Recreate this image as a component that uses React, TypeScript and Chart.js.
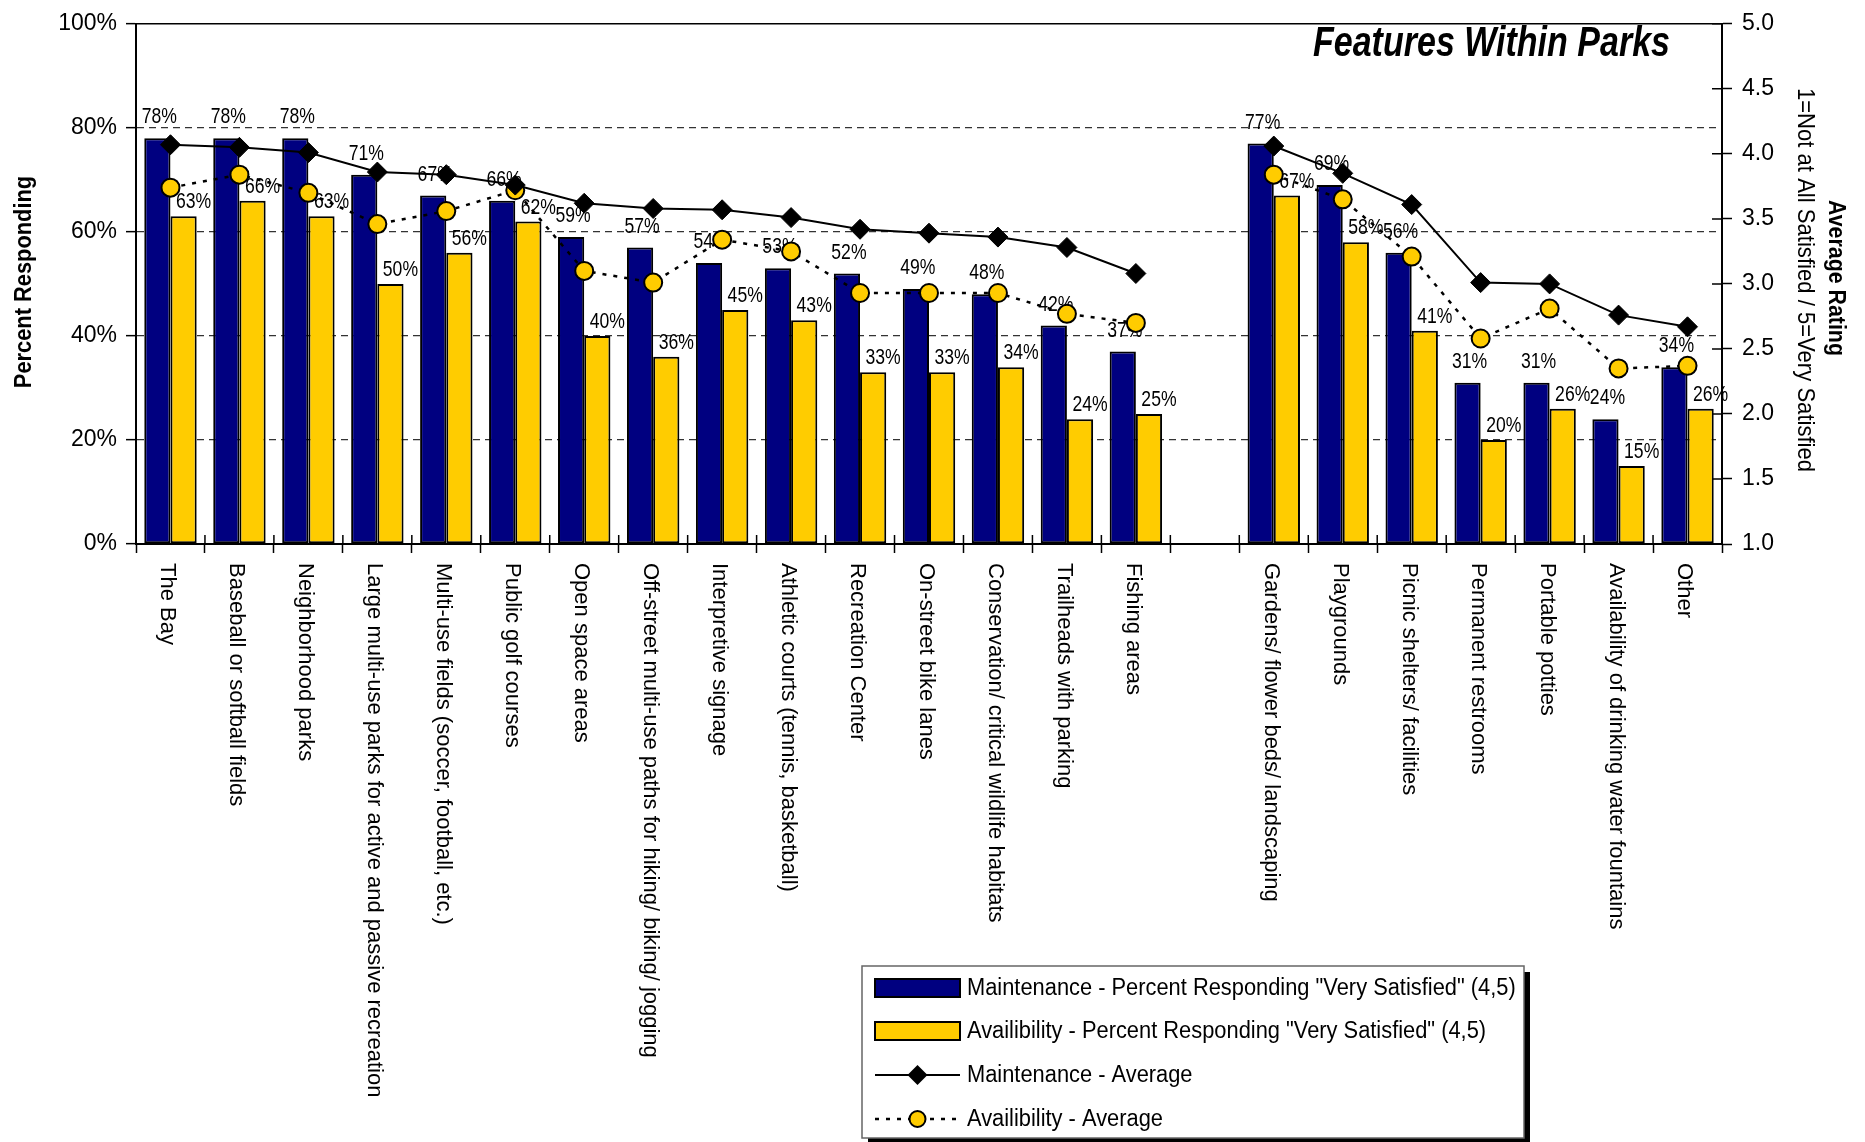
import React, { useEffect, useRef } from "react";
import { Chart, registerables } from "chart.js";

Chart.register(...registerables);

// ---------- data ----------
const categories = [
  "The Bay",
  "Baseball or softball fields",
  "Neighborhood parks",
  "Large multi-use parks for active and passive recreation",
  "Multi-use fields (soccer, football, etc.)",
  "Public golf courses",
  "Open space areas",
  "Off-street multi-use paths for hiking/ biking/ jogging",
  "Interpretive signage",
  "Athletic courts (tennis, basketball)",
  "Recreation Center",
  "On-street bike lanes",
  "Conservation/ critical wildlife habitats",
  "Trailheads with parking",
  "Fishing areas",
  "",
  "Gardens/ flower beds/ landscaping",
  "Playgrounds",
  "Picnic shelters/ facilities",
  "Permanent restrooms",
  "Portable potties",
  "Availability of drinking water fountains",
  "Other",
];

const maintenancePct = [78, 78, 78, 71, 67, 66, 59, 57, 54, 53, 52, 49, 48, 42, 37, null, 77, 69, 56, 31, 31, 24, 34];
const availabilityPct = [63, 66, 63, 50, 56, 62, 40, 36, 45, 43, 33, 33, 34, 24, 25, null, 67, 58, 41, 20, 26, 15, 26];
const maintenanceAvg = [4.07, 4.05, 4.01, 3.86, 3.84, 3.76, 3.62, 3.58, 3.57, 3.51, 3.42, 3.39, 3.36, 3.28, 3.08, null, 4.06, 3.85, 3.61, 3.01, 3.0, 2.76, 2.67];
const availabilityAvg = [3.74, 3.84, 3.7, 3.46, 3.56, 3.72, 3.1, 3.01, 3.34, 3.25, 2.93, 2.93, 2.93, 2.77, 2.7, null, 3.84, 3.65, 3.21, 2.58, 2.81, 2.35, 2.37];

const percentTicks = [0, 20, 40, 60, 80, 100];
const ratingTicks = [1.0, 1.5, 2.0, 2.5, 3.0, 3.5, 4.0, 4.5, 5.0];

const seriesNames = [
  'Maintenance - Percent Responding "Very Satisfied" (4,5)',
  'Availibility - Percent Responding "Very Satisfied" (4,5)',
  "Maintenance - Average",
  "Availibility - Average",
];
const chartTitle = "Features Within Parks";
const leftAxisTitle = "Percent Responding";
const rightAxisTitle = ["Average Rating", "1=Not at All Satisfied / 5=Very Satisfied"];

// ---------- styles / layout ----------
const NAVY = "#000080";
const GOLD = "#FFCC00";
const SANS = "'Liberation Sans', Arial, Helvetica, sans-serif";
const W = 1865;
const H = 1142;
const AREA = { left: 136, right: 1722, top: 18, bottom: 544 };

function condensedText(ctx: any, text: string, x: number, y: number, sx: number, rot = 0) {
  ctx.save();
  ctx.translate(x, y);
  if (rot) ctx.rotate(rot);
  ctx.scale(sx, 1);
  ctx.fillText(text, 0, 0);
  ctx.restore();
}

const decorPlugin = {
  id: "decor",
  afterDatasetDraw(chart: any, args: any) {
    if (args.index !== 0) return;
    const ctx = chart.ctx;
    ctx.save();
    ctx.font = `22px ${SANS}`;
    ctx.fillStyle = "#000";
    ctx.textAlign = "center";
    ctx.textBaseline = "middle";
    [0, 1].forEach((di) => {
      const meta = chart.getDatasetMeta(di);
      const values = chart.data.datasets[di].data;
      meta.data.forEach((bar: any, i: number) => {
        const v = values[i];
        if (v == null) return;
        const dx = di === 0 ? 2 : 10;
        const dy = di === 0 ? 21 : 14;
        condensedText(ctx, `${v}%`, bar.x + dx, bar.y - dy, 0.8);
      });
    });
    ctx.restore();
  },
  afterDraw(chart: any) {
    const { ctx, chartArea, scales } = chart;
    ctx.save();
    ctx.setLineDash([]);
    // top frame
    ctx.strokeStyle = "#000";
    ctx.lineWidth = 1.5;
    ctx.beginPath();
    ctx.moveTo(chartArea.left, chartArea.top);
    ctx.lineTo(chartArea.right, chartArea.top);
    ctx.stroke();

    // inner halves of the crossing tick marks (x axis and right axis)
    const xs = scales.x;
    const slot = xs.getPixelForValue(1) - xs.getPixelForValue(0);
    ctx.lineWidth = 1.5;
    ctx.beginPath();
    for (let i = 0; i <= categories.length; i++) {
      const bx = xs.getPixelForValue(0) - slot / 2 + i * slot;
      ctx.moveTo(bx, chartArea.bottom);
      ctx.lineTo(bx, chartArea.bottom - 9);
    }
    scales.y2.ticks.forEach((t: any) => {
      const py = scales.y2.getPixelForValue(t.value);
      ctx.moveTo(chartArea.right, py);
      ctx.lineTo(chartArea.right - 10, py);
    });
    ctx.stroke();

    // category labels (rotated clockwise)
    ctx.fillStyle = "#000";
    ctx.font = `22px ${SANS}`;
    ctx.textAlign = "left";
    ctx.textBaseline = "middle";
    categories.forEach((c, i) => {
      if (!c) return;
      const x = xs.getPixelForValue(i) - 3;
      ctx.save();
      ctx.translate(x, chartArea.bottom + 19);
      ctx.rotate(Math.PI / 2);
      ctx.fillText(c, 0, 0);
      ctx.restore();
    });

    // chart title
    ctx.font = `italic bold 42px ${SANS}`;
    ctx.textAlign = "right";
    ctx.textBaseline = "middle";
    condensedText(ctx, chartTitle, 1670, 44, 0.81);

    // left axis title
    ctx.textAlign = "center";
    ctx.font = `bold 24px ${SANS}`;
    condensedText(ctx, leftAxisTitle, 24, 282, 0.91, -Math.PI / 2);

    // right axis titles
    condensedText(ctx, rightAxisTitle[0], 1836, 278, 0.89, Math.PI / 2);
    ctx.font = `24px ${SANS}`;
    condensedText(ctx, rightAxisTitle[1], 1805, 280, 0.92, Math.PI / 2);

    // legend
    const bx = 862, by = 966, bw = 662, bh = 172;
    ctx.fillStyle = "#000";
    ctx.fillRect(bx + 6, by + 6, bw, bh);
    ctx.fillStyle = "#fff";
    ctx.fillRect(bx, by, bw, bh);
    ctx.strokeStyle = "#666";
    ctx.lineWidth = 1.5;
    ctx.strokeRect(bx, by, bw, bh);
    const rows = [988, 1031, 1075, 1119];
    const sx0 = 875, sx1 = 960, smid = (sx0 + sx1) / 2;
    rows.forEach((y, k) => {
      ctx.save();
      if (k < 2) {
        ctx.fillStyle = k === 0 ? NAVY : GOLD;
        ctx.fillRect(sx0, y - 9, sx1 - sx0, 18);
        ctx.strokeStyle = "#000";
        ctx.lineWidth = 2;
        ctx.strokeRect(sx0, y - 9, sx1 - sx0, 18);
      } else {
        ctx.strokeStyle = "#000";
        ctx.lineWidth = k === 2 ? 2 : 2.5;
        ctx.setLineDash(k === 2 ? [] : [4, 7]);
        ctx.beginPath();
        ctx.moveTo(sx0, y);
        ctx.lineTo(sx1, y);
        ctx.stroke();
        ctx.setLineDash([]);
        ctx.beginPath();
        if (k === 2) {
          ctx.moveTo(smid, y - 10);
          ctx.lineTo(smid + 10, y);
          ctx.lineTo(smid, y + 10);
          ctx.lineTo(smid - 10, y);
          ctx.closePath();
          ctx.fillStyle = "#000";
          ctx.fill();
        } else {
          ctx.arc(smid, y, 8, 0, Math.PI * 2);
          ctx.fillStyle = GOLD;
          ctx.fill();
          ctx.lineWidth = 2;
          ctx.stroke();
        }
      }
      ctx.restore();
      ctx.fillStyle = "#000";
      ctx.font = `23px ${SANS}`;
      ctx.textAlign = "left";
      ctx.textBaseline = "middle";
      condensedText(ctx, seriesNames[k], 967, y + 1, 0.95);
    });
    ctx.restore();
  },
};

export default function App() {
  const ref = useRef<HTMLCanvasElement | null>(null);
  useEffect(() => {
    if (!ref.current) return;
    const chart = new Chart(ref.current, {
      type: "bar",
      data: {
        labels: categories,
        datasets: [
          {
            type: "bar",
            label: seriesNames[0],
            data: maintenancePct,
            backgroundColor: NAVY,
            borderColor: "#000",
            borderWidth: 2,
            borderSkipped: false,
            yAxisID: "y",
            order: 1,
            barPercentage: 1,
            categoryPercentage: 0.76,
          },
          {
            type: "bar",
            label: seriesNames[1],
            data: availabilityPct,
            backgroundColor: GOLD,
            borderColor: "#000",
            borderWidth: 2,
            borderSkipped: false,
            yAxisID: "y",
            order: 1,
            barPercentage: 1,
            categoryPercentage: 0.76,
          },
          {
            type: "line",
            label: seriesNames[2],
            data: maintenanceAvg,
            borderColor: "#000",
            borderWidth: 2,
            pointStyle: "rectRot",
            pointRadius: 10,
            pointBackgroundColor: "#000",
            pointBorderColor: "#000",
            pointBorderWidth: 1,
            yAxisID: "y2",
            order: 0,
            tension: 0,
            spanGaps: false,
          },
          {
            type: "line",
            label: seriesNames[3],
            data: availabilityAvg,
            borderColor: "#000",
            borderWidth: 2.5,
            borderDash: [4, 7],
            pointStyle: "circle",
            pointRadius: 9,
            pointBackgroundColor: GOLD,
            pointBorderColor: "#000",
            pointBorderWidth: 2,
            yAxisID: "y2",
            order: 0,
            tension: 0,
            spanGaps: false,
          },
        ],
      } as any,
      options: {
        responsive: false,
        animation: false,
        devicePixelRatio: 1,
        layout: { padding: { top: AREA.top, left: 0, right: 0, bottom: 0 } },
        plugins: { legend: { display: false }, title: { display: false }, tooltip: { enabled: false } },
        scales: {
          x: {
            type: "category",
            offset: true,
            grid: {
              display: true,
              offset: true,
              drawOnChartArea: false,
              drawTicks: true,
              tickLength: 9,
              color: "#000",
              tickColor: "#000",
              tickWidth: 1.5,
              tickBorderDash: [],
            },
            border: { display: true, color: "#000", width: 2 },
            ticks: { display: false },
            afterFit: (s: any) => {
              s.height = H - AREA.bottom;
            },
          },
          y: {
            position: "left",
            min: percentTicks[0],
            max: percentTicks[percentTicks.length - 1],
            afterBuildTicks: (s: any) => {
              s.ticks = percentTicks.map((v) => ({ value: v }));
            },
            ticks: {
              callback: (v: any) => `${v}%`,
              font: { size: 23, family: SANS },
              color: "#000",
              padding: 9,
            },
            grid: {
              color: (c: any) =>
                c.tick && (c.tick.value === 0 || c.tick.value === 100) ? "rgba(0,0,0,0)" : "#333",
              lineWidth: 1.3,
              tickColor: "#000",
              tickLength: 10,
              tickWidth: 1.5,
              tickBorderDash: [],
            },
            border: { display: true, color: "#000", width: 2, dash: [7, 5] },
            afterFit: (s: any) => {
              s.width = AREA.left;
            },
          },
          y2: {
            position: "right",
            min: ratingTicks[0],
            max: ratingTicks[ratingTicks.length - 1],
            afterBuildTicks: (s: any) => {
              s.ticks = ratingTicks.map((v) => ({ value: v }));
            },
            ticks: {
              callback: (v: any) => Number(v).toFixed(1),
              font: { size: 23, family: SANS },
              color: "#000",
              padding: 10,
            },
            grid: {
              drawOnChartArea: false,
              tickColor: "#000",
              color: "#000",
              tickLength: 10,
              tickWidth: 1.5,
              tickBorderDash: [],
            },
            border: { display: true, color: "#000", width: 2 },
            afterFit: (s: any) => {
              s.width = W - AREA.right;
            },
          },
        },
      } as any,
      plugins: [decorPlugin],
    });
    return () => chart.destroy();
  }, []);

  return (
    <div style={{ position: "fixed", left: 0, top: 0, width: W, height: H, background: "#fff" }}>
      <canvas ref={ref} width={W} height={H} style={{ width: W, height: H, display: "block" }} />
    </div>
  );
}
